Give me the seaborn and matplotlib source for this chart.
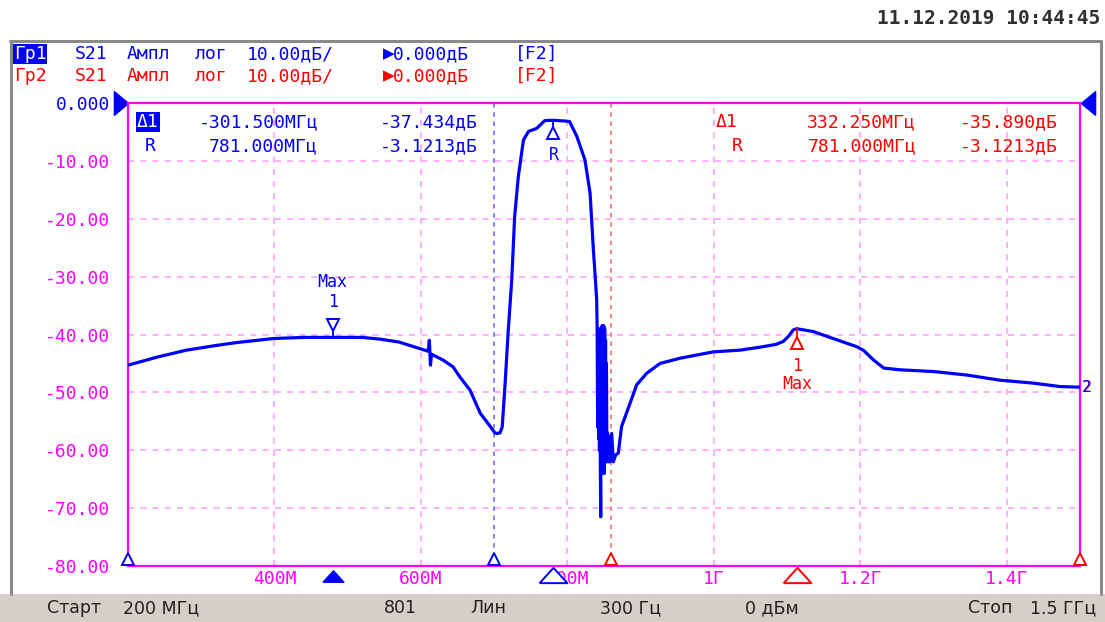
import matplotlib
matplotlib.use("Agg")
import matplotlib.pyplot as plt
import matplotlib.transforms as mtransforms
from matplotlib.patches import Rectangle
from matplotlib.lines import Line2D
import pandas as pd
import seaborn as sns

# =====================================================
# DATA
# =====================================================

freq_mhz = [
    200, 240, 280, 320, 348, 398, 440, 480, 520, 544, 570, 590, 605,
    610, 611.5, 613, 614.5, 630, 644, 653, 667, 681, 693, 701, 703.5,
    708, 711, 715, 719, 724, 728, 733, 740, 747, 758, 769, 775, 783,
    795, 803, 813, 824, 831, 835.5, 838, 840, 840.7, 841.3, 842, 842.6,
    843.2, 843.8, 844.4, 845, 845.5, 846.1, 846.7, 847.3, 847.9, 848.5,
    849.1, 849.7, 850.3, 850.9, 851.5, 852.1, 852.7, 853.3, 853.9, 854.6,
    855.5, 856.5, 858, 860.5, 862.7, 866, 869.5, 874, 885.5, 894.6, 908.3,
    926.5, 953.8, 999.3, 1036, 1067.5, 1085, 1094.8, 1102, 1108.5,
    1113.25, 1136, 1163, 1195, 1204, 1218, 1232, 1254, 1300, 1345, 1391,
    1436, 1473, 1500,
]
s21_db = [
    -45.3, -43.9, -42.7, -41.9, -41.4, -40.7, -40.5, -40.5, -40.5, -40.8,
    -41.3, -42.1, -42.7, -42.9, -41.0, -45.3, -43.4, -44.4, -45.6, -47.3,
    -49.6, -53.6, -55.6, -57.0, -57.1, -57.0, -56.0, -48.4, -39.8, -30.6,
    -19.6, -12.7, -6.4, -4.9, -4.4, -3.05, -3.0, -3.0, -3.1, -3.2, -5.8,
    -9.85, -15.6, -25.4, -30.0, -34.0, -39.5, -56.0, -40.0, -58.0,
    -39.0, -60.0, -41.0, -63.0, -71.5, -44.0, -62.0, -38.5, -64.0, -38.5,
    -63.0, -38.5, -64.0, -39.0, -62.0, -41.0, -62.0, -45.0, -60.0, -57.0,
    -62.0, -57.5, -62.0, -57.1, -62.0, -60.8, -60.5, -55.9, -51.9, -48.7,
    -46.7, -45.0, -44.1, -43.0, -42.7, -42.1, -41.7, -41.2, -40.3, -39.2,
    -39.0, -39.5, -40.7, -42.1, -42.7, -44.4, -45.8, -46.1, -46.4, -47.0,
    -47.9, -48.4, -49.0, -49.1,
]

y_ticks = [0, -10, -20, -30, -40, -50, -60, -70, -80]
y_tick_labels = ["0.000", "-10.00", "-20.00", "-30.00", "-40.00",
                 "-50.00", "-60.00", "-70.00", "-80.00"]
x_ticks = [400, 600, 800, 1000, 1200, 1400]
x_tick_labels = ["400M", "600M", "800M", "1Г", "1.2Г", "1.4Г"]

ref_mhz, ref_db = 781.0, -3.1213
mk_blue_mhz, mk_blue_db = 479.5, -40.555
mk_red_mhz, mk_red_db = 1113.25, -39.011
end_mhz, end_db = 1500, -49.1
line_blue_mhz = 700
line_red_mhz = 860

BLUE = "#0000ff"
RED = "#ff0000"
MAG = "#ff00ff"
GRID = "#ff99ff"

# =====================================================
# FIGURE
# =====================================================

sns.set_style("white")
plt.rcParams["font.family"] = ["DejaVu Sans Mono", "DejaVu Sans"]

W, H = 1105, 622
fig = plt.figure(figsize=(W / 100, H / 100), dpi=100)
fig.patch.set_facecolor("white")


def fx(x):
    return x / W


def fy(y):
    return 1 - y / H


ax = fig.add_axes([fx(128), fy(566), (1080 - 128) / W, (566 - 103) / H])

df = pd.DataFrame({"f": freq_mhz, "db": s21_db})
sns.lineplot(data=df, x="f", y="db", ax=ax, color=BLUE, lw=2.3,
             sort=False, estimator=None, zorder=5)

ax.set_xlim(200, 1500)
ax.set_ylim(-80, 0)
ax.set_xlabel("")
ax.set_ylabel("")
ax.set_xticks(x_ticks, x_tick_labels)
ax.set_yticks(y_ticks, y_tick_labels)
ax.grid(True, color=GRID, ls=(0, (4, 4)), lw=1.1)
ax.tick_params(length=0, labelcolor=MAG, labelsize=13)
ax.tick_params(axis="y", pad=13)
ax.tick_params(axis="x", pad=3)
ax.get_yticklabels()[0].set_color(BLUE)
for s in ax.spines.values():
    s.set_color(MAG)
    s.set_linewidth(1.6)

# marker lines
ax.axvline(line_blue_mhz, color="#6060ff", ls=(0, (3, 3)), lw=1.1)
ax.axvline(line_red_mhz, color="#ff6060", ls=(0, (3, 3)), lw=1.1)


def off(dx, dy, trans=None):
    base = ax.transData if trans is None else trans
    return base + mtransforms.ScaledTranslation(dx / 100, -dy / 100,
                                                fig.dpi_scale_trans)


# markers on trace: flag + stem
ax.plot([mk_blue_mhz], [mk_blue_db], marker="|", ms=8, color=BLUE,
        mew=1.3, transform=off(0, -5), zorder=6)
ax.plot([mk_blue_mhz], [mk_blue_db], marker="v", ms=9, mfc="white",
        mec=BLUE, mew=1.4, transform=off(0, -13), zorder=6)
ax.text(mk_blue_mhz, mk_blue_db, "1", color=BLUE, fontsize=12,
        ha="center", va="center", transform=off(0, -36))
ax.text(mk_blue_mhz, mk_blue_db, "Max", color=BLUE, fontsize=12,
        ha="center", va="center", transform=off(0, -56))

ax.plot([ref_mhz], [ref_db], marker="|", ms=8, color=BLUE,
        mew=1.3, transform=off(0, 4), zorder=6)
ax.plot([ref_mhz], [ref_db], marker="^", ms=9, mfc="white",
        mec=BLUE, mew=1.4, transform=off(0, 12), zorder=6)
ax.text(ref_mhz, ref_db, "R", color=BLUE, fontsize=12,
        ha="center", va="center", transform=off(0, 34))

ax.plot([mk_red_mhz], [mk_red_db], marker="|", ms=8, color=RED,
        mew=1.3, transform=off(0, 5), zorder=6)
ax.plot([mk_red_mhz], [mk_red_db], marker="^", ms=9, mfc="white",
        mec=RED, mew=1.4, transform=off(0, 14), zorder=6)
ax.text(mk_red_mhz, mk_red_db, "1", color=RED, fontsize=12,
        ha="center", va="center", transform=off(0, 37))
ax.text(mk_red_mhz, mk_red_db, "Max", color=RED, fontsize=12,
        ha="center", va="center", transform=off(0, 55))

ax.text(end_mhz, end_db, "2", color=RED, fontsize=11, ha="left",
        va="center", transform=off(3, 0), clip_on=False)
ax.text(end_mhz, end_db, "2", color=BLUE, fontsize=11, ha="left",
        va="center", transform=off(2, 0), clip_on=False)

# stimulus markers on the bottom line and below the axis
bx = mtransforms.blended_transform_factory(ax.transData, ax.transAxes)
for f, c in [(200, BLUE), (line_blue_mhz, BLUE), (line_red_mhz, RED),
             (1500, RED)]:
    ax.plot([f], [0], marker="^", ms=8, mfc="white", mec=c, mew=1.4,
            transform=off(0, -7, bx), clip_on=False, zorder=7)

flat_tri = [(-1, -0.55), (1, -0.55), (0, 0.55), (-1, -0.55)]
ax.plot([mk_blue_mhz], [0], marker=flat_tri, ms=15, color=BLUE,
        transform=off(0, 10, bx), clip_on=False)
ax.plot([ref_mhz], [0], marker=flat_tri, ms=20, mfc="white", mec=BLUE,
        mew=1.4, transform=off(0, 9, bx), clip_on=False)
ax.plot([mk_red_mhz], [0], marker=flat_tri, ms=20, mfc="white", mec=RED,
        mew=1.4, transform=off(0, 9, bx), clip_on=False)

# reference level arrows
by = mtransforms.blended_transform_factory(ax.transAxes, ax.transData)
ax.plot([0], [0], marker=[(-0.6, -1), (-0.6, 1), (0.6, 0), (-0.6, -1)],
        ms=17, color=BLUE, transform=off(-7, 0, by), clip_on=False)
ax.plot([1], [0], marker=[(0.6, -1), (0.6, 1), (-0.6, 0), (0.6, -1)],
        ms=17, color=BLUE, transform=off(8, 0, by), clip_on=False)

# =====================================================
# WINDOW FRAME, STATUS BAR, TEXT
# =====================================================

fig.add_artist(Rectangle((0, 0), 1, fy(594), transform=fig.transFigure,
                         facecolor="#d4d0c8", edgecolor="none", zorder=0))
for xs, ys in [([10, 1101], [41, 41]), ([11, 11], [41, 594]),
               ([1101, 1101], [41, 594])]:
    fig.add_artist(Line2D([fx(v) for v in xs], [fy(v) for v in ys],
                          color="#8a8a8a", lw=2.2))

fig.text(fx(1100), fy(19), "11.12.2019 10:44:45", ha="right", va="center",
         fontsize=14, fontweight="bold", color="#303030")

header = [("S21", 75), ("Ампл", 127), ("лог", 195), ("10.00дБ/", 247),
          ("0.000дБ", 393), ("[F2]", 515)]
for row, (name, col, yy) in enumerate([("Гр1", BLUE, 54), ("Гр2", RED, 76)]):
    if row == 0:
        fig.text(fx(14), fy(yy), name, color="white", fontsize=13,
                 va="center", bbox=dict(facecolor=BLUE, edgecolor="none",
                                        pad=0.5))
    else:
        fig.text(fx(14), fy(yy), name, color=col, fontsize=13, va="center")
    for txt, xx in header:
        fig.text(fx(xx), fy(yy), txt, color=col, fontsize=13, va="center")
    fig.text(fx(383), fy(yy), "▶", color=col, fontsize=11, va="center",
             family="DejaVu Sans")

# marker readouts
fig.text(fx(137), fy(122), "Δ1", color="white", fontsize=13, va="center",
         bbox=dict(facecolor=BLUE, edgecolor="none", pad=1))
fig.text(fx(150), fy(146), "R", color=BLUE, fontsize=13, va="center",
         ha="center")
fig.text(fx(716), fy(122), "Δ1", color=RED, fontsize=13, va="center")
fig.text(fx(737), fy(146), "R", color=RED, fontsize=13, va="center",
         ha="center")
readouts = [
    (BLUE, 318, 478, "-301.500МГц", "-37.434дБ", "781.000МГц", "-3.1213дБ"),
    (RED, 916, 1058, "332.250МГц", "-35.890дБ", "781.000МГц", "-3.1213дБ"),
]
for col, x1, x2, f1, d1, f2, d2 in readouts:
    fig.text(fx(x1), fy(122), f1, color=col, fontsize=13, va="center",
             ha="right")
    fig.text(fx(x2), fy(122), d1, color=col, fontsize=13, va="center",
             ha="right")
    fig.text(fx(x1), fy(146), f2, color=col, fontsize=13, va="center",
             ha="right")
    fig.text(fx(x2), fy(146), d2, color=col, fontsize=13, va="center",
             ha="right")

status = [("Старт", 47, "left"), ("200 МГц", 123, "left"),
          ("801", 384, "left"), ("Лин", 470, "left"),
          ("300 Гц", 600, "left"), ("0 дБм", 745, "left"),
          ("Стоп", 968, "left"), ("1.5 ГГц", 1096, "right")]
for txt, xx, ha in status:
    fig.text(fx(xx), fy(608), txt, color="#202020", fontsize=12.5,
             family="DejaVu Sans", va="center", ha=ha)

fig.savefig("out.png", dpi=100)
